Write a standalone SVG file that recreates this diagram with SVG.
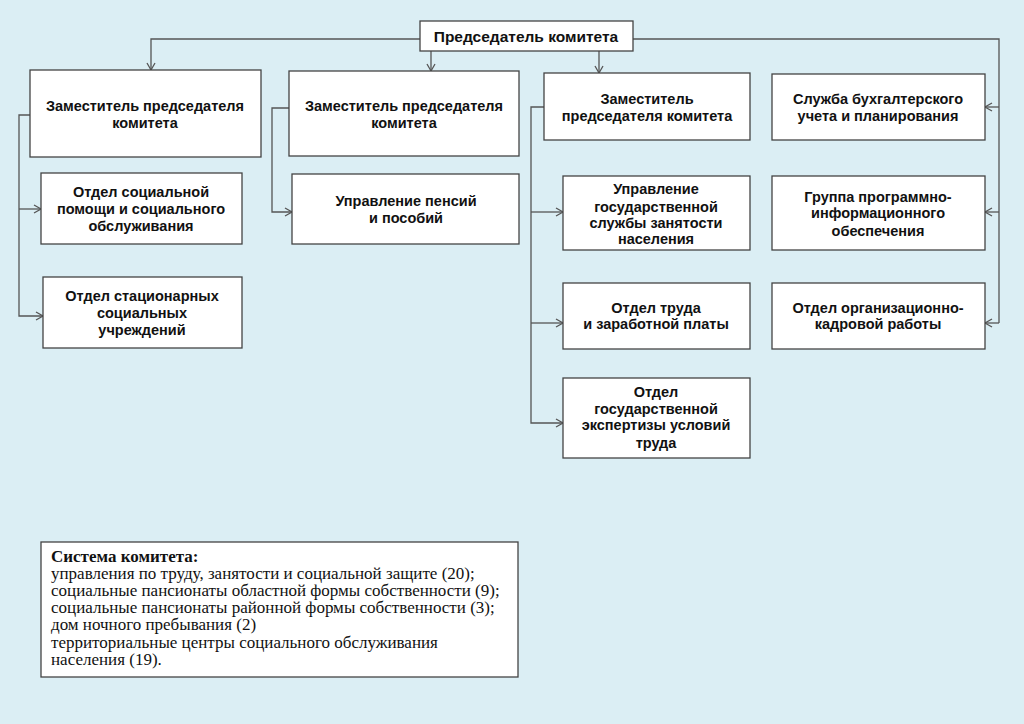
<svg xmlns="http://www.w3.org/2000/svg" width="1024" height="724" viewBox="0 0 1024 724">
<style>
.bx{fill:#fff;stroke:#444;stroke-width:1.3}
.t{font-family:"Liberation Sans",Arial,sans-serif;font-weight:bold;font-size:14.5px;fill:#111;text-anchor:middle}
.c{fill:none;stroke:#555;stroke-width:1.3}
.lg{font-family:"Liberation Serif","Times New Roman",serif;font-size:17px;fill:#111}
</style>
<defs>
<marker id="ar" markerWidth="10" markerHeight="10" refX="8" refY="5" orient="auto" markerUnits="userSpaceOnUse">
<path d="M1,1 L8,5 L1,9" fill="none" stroke="#555" stroke-width="1.3"/>
</marker>
</defs>
<rect width="1024" height="724" fill="#dbeef4"/>
<g id="connectors">
<path class="c" d="M420,39 H151 V70" marker-end="url(#ar)"/>
<path class="c" d="M431,51 V71" marker-end="url(#ar)"/>
<path class="c" d="M599,51 V73" marker-end="url(#ar)"/>
<path class="c" d="M633,39 H999 V323"/>
<path class="c" d="M999,107 H985" marker-end="url(#ar)"/>
<path class="c" d="M999,212 H985" marker-end="url(#ar)"/>
<path class="c" d="M999,323 H985" marker-end="url(#ar)"/>
<path class="c" d="M30,115 H19 V316 H43" marker-end="url(#ar)"/>
<path class="c" d="M19,209 H41" marker-end="url(#ar)"/>
<path class="c" d="M289,108 H272 V212 H292" marker-end="url(#ar)"/>
<path class="c" d="M544,107 H531 V423 H563" marker-end="url(#ar)"/>
<path class="c" d="M531,212 H563" marker-end="url(#ar)"/>
<path class="c" d="M531,323 H563" marker-end="url(#ar)"/>
</g>
<g id="chair">
<rect class="bx" x="420" y="21" width="213" height="30"/>
<text class="t" x="526" y="42" style="font-size:15.5px">Председатель комитета</text>
</g>
<g id="dep1">
<rect class="bx" x="30" y="70" width="231" height="87"/>
<text class="t" x="145" y="111">Заместитель председателя</text>
<text class="t" x="145" y="128">комитета</text>
</g>
<g id="dep2">
<rect class="bx" x="289" y="71" width="230" height="85"/>
<text class="t" x="404" y="111">Заместитель председателя</text>
<text class="t" x="404" y="128">комитета</text>
</g>
<g id="dep3">
<rect class="bx" x="544" y="73" width="206" height="67"/>
<text class="t" x="647" y="104">Заместитель</text>
<text class="t" x="647" y="121">председателя комитета</text>
</g>
<g id="accounting">
<rect class="bx" x="772" y="74" width="213" height="66"/>
<text class="t" x="878" y="104">Служба бухгалтерского</text>
<text class="t" x="878" y="121">учета и планирования</text>
</g>
<g id="socialhelp">
<rect class="bx" x="41" y="173" width="201" height="71"/>
<text class="t" x="141" y="197">Отдел социальной</text>
<text class="t" x="141" y="214">помощи и социального</text>
<text class="t" x="141" y="231">обслуживания</text>
</g>
<g id="stationary">
<rect class="bx" x="43" y="277" width="199" height="71"/>
<text class="t" x="142" y="301">Отдел стационарных</text>
<text class="t" x="142" y="318">социальных</text>
<text class="t" x="142" y="335">учреждений</text>
</g>
<g id="pensions">
<rect class="bx" x="292" y="174" width="227" height="70"/>
<text class="t" x="406" y="206">Управление пенсий</text>
<text class="t" x="406" y="223">и пособий</text>
</g>
<g id="employment">
<rect class="bx" x="563" y="176" width="187" height="74"/>
<text class="t" x="656" y="194">Управление</text>
<text class="t" x="656" y="212">государственной</text>
<text class="t" x="656" y="228">службы занятости</text>
<text class="t" x="656" y="244">населения</text>
</g>
<g id="it">
<rect class="bx" x="772" y="176" width="213" height="74"/>
<text class="t" x="878" y="202">Группа программно-</text>
<text class="t" x="878" y="218">информационного</text>
<text class="t" x="878" y="236">обеспечения</text>
</g>
<g id="labor">
<rect class="bx" x="563" y="283" width="187" height="66"/>
<text class="t" x="656" y="313">Отдел труда</text>
<text class="t" x="656" y="329">и заработной платы</text>
</g>
<g id="hr">
<rect class="bx" x="772" y="283" width="213" height="66"/>
<text class="t" x="878" y="313">Отдел организационно-</text>
<text class="t" x="878" y="329">кадровой работы</text>
</g>
<g id="expertise">
<rect class="bx" x="563" y="378" width="187" height="80"/>
<text class="t" x="656" y="397">Отдел</text>
<text class="t" x="656" y="414">государственной</text>
<text class="t" x="656" y="430">экспертизы условий</text>
<text class="t" x="656" y="448">труда</text>
</g>
<g id="legend">
<rect class="bx" x="41" y="542" width="477" height="135"/>
<text class="lg" x="51" y="562" font-weight="bold">Система комитета:</text>
<text class="lg" x="51" y="579">управления по труду, занятости и социальной защите (20);</text>
<text class="lg" x="51" y="596">социальные пансионаты областной формы собственности (9);</text>
<text class="lg" x="51" y="613">социальные пансионаты районной формы собственности (3);</text>
<text class="lg" x="51" y="630">дом ночного пребывания (2)</text>
<text class="lg" x="51" y="648">территориальные центры социального обслуживания</text>
<text class="lg" x="51" y="665">населения (19).</text>
</g>
</svg>
